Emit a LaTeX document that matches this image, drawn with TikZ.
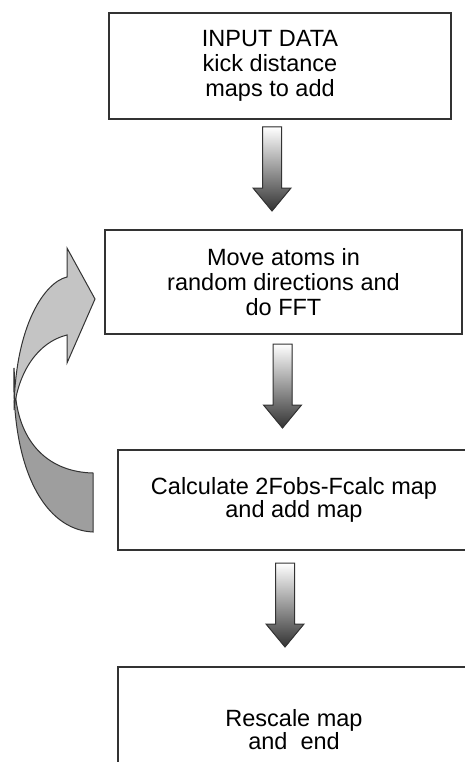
\documentclass[tikz,border=0pt]{standalone}
\usepackage{fontspec}
\setmainfont{Liberation Sans}

\definecolor{linegray}{HTML}{333333}
\definecolor{bandlight}{HTML}{C4C4C4}
\definecolor{banddark}{HTML}{9E9E9E}

\begin{document}
\begin{tikzpicture}[x=1pt, y=-1pt,
    every node/.style={font=\fontsize{23.5}{25}\selectfont},
    stepbox/.style={draw=linegray, line width=1.3pt, fill=white, align=center, inner sep=0pt},
    downarrow/.style={draw=linegray, line width=1pt, line join=miter,
      top color=white, bottom color=black!80}]
  \clip (0,0) rectangle (465,762);

  % Steps
  \node[stepbox, minimum width=342pt, minimum height=106pt] (input) at (280,66)
    {\hspace*{-20pt}INPUT DATA\\\hspace*{-20pt}kick distance\\\hspace*{-20pt}maps to add};
  \node[stepbox, minimum width=357pt, minimum height=104pt] (move) at (283.5,282)
    {Move atoms in\\random directions and\\do FFT};
  \node[stepbox, minimum width=352pt, minimum height=100pt,
        font=\fontsize{23.5}{21.5}\selectfont] (calc) at (294,500)
    {Calculate 2Fobs-Fcalc map\\and add map};
  \node[stepbox, minimum width=352pt, minimum height=126pt,
        font=\fontsize{23.5}{21.5}\selectfont] (rescale) at (294,730)
    {Rescale map\\and\ \ end};

  % Block arrows between the steps
  \foreach \n/\x/\y in {arr1/272/127, arr2/282.5/344, arr3/285/563} {
    \coordinate (\n) at (\x,\y);
    \filldraw[downarrow] (\n) ++(-9.5,0) -- ++(19,0) -- ++(0,61) -- ++(9.5,0)
      -- ++(-19,23) -- ++(-19,-23) -- ++(9.5,0) -- cycle;
  }

  % Loop back: curved arrow from calc to move
  \filldraw[fill=banddark, draw=linegray, line width=1pt]
    (14,368) .. controls (11,470) and (45,530) .. (93,532) -- (93,473)
    .. controls (50,472) and (22,445) .. (16,400) -- cycle;
  \filldraw[fill=bandlight, draw=linegray, line width=1pt]
    (95,299) -- (67,248) -- (67,277) .. controls (45,282) and (15,325) .. (14,410)
    .. controls (18,372) and (38,342) .. (67,335) -- (67,363) -- cycle;
\end{tikzpicture}
\end{document}
